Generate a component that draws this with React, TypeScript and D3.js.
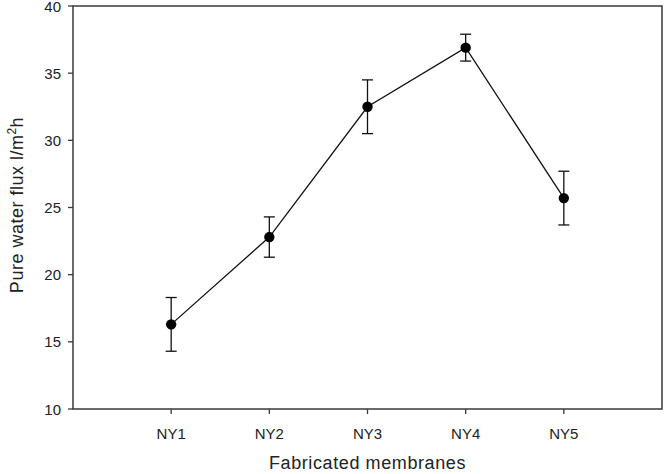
import React from "react";
import * as d3 from "d3";

const categories = ["NY1", "NY2", "NY3", "NY4", "NY5"];
const fluxValues = [16.3, 22.8, 32.5, 36.9, 25.7];
const fluxErrors = [2.0, 1.5, 2.0, 1.0, 2.0];
const yTicks = [10, 15, 20, 25, 30, 35, 40];

const W = 664;
const H = 474;
const M = { left: 73, right: 2, top: 6, bottom: 65 };

export default function App() {
  const x = d3.scaleLinear().domain([0, categories.length + 1]).range([M.left, W - M.right]);
  const y = d3.scaleLinear().domain([10, 40]).range([H - M.bottom, M.top]);
  const pts = categories.map((c, i) => ({ c, i: i + 1, v: fluxValues[i], e: fluxErrors[i] }));
  const line = d3
    .line<{ i: number; v: number }>()
    .x((d) => x(d.i))
    .y((d) => y(d.v));
  const font = "'Liberation Sans', Arial, sans-serif";
  const axisColor = "#3a3a3a";
  const x0 = x(0);
  const x1 = x(categories.length + 1);
  const y0 = y(10);
  const y1 = y(40);
  return (
    <svg width={W} height={H} style={{ position: "absolute", left: 0, top: 0, background: "#fff" }} fontFamily={font}>
      <rect x={0} y={0} width={W} height={H} fill="#fff" />
      <rect x={x0} y={y1} width={x1 - x0} height={y0 - y1} fill="none" stroke={axisColor} strokeWidth={1.5} />
      {yTicks.map((t) => (
        <g key={t}>
          <line x1={x0 - 5} x2={x0} y1={y(t)} y2={y(t)} stroke={axisColor} strokeWidth={1.3} />
          <text x={x0 - 12} y={y(t) + 5.5} textAnchor="end" fontSize={15} fill="#222">
            {t}
          </text>
        </g>
      ))}
      {pts.map((p) => (
        <g key={p.c}>
          <line x1={x(p.i)} x2={x(p.i)} y1={y0} y2={y0 + 5} stroke={axisColor} strokeWidth={1.3} />
          <text x={x(p.i)} y={y0 + 30} textAnchor="middle" fontSize={15} fill="#222">
            {p.c}
          </text>
        </g>
      ))}
      <path d={line(pts) || ""} fill="none" stroke="#111" strokeWidth={1.3} />
      {pts.map((p) => (
        <g key={"e" + p.c} stroke="#111" strokeWidth={1.3}>
          <line x1={x(p.i)} x2={x(p.i)} y1={y(p.v + p.e)} y2={y(p.v - p.e)} />
          <line x1={x(p.i) - 5.5} x2={x(p.i) + 5.5} y1={y(p.v + p.e)} y2={y(p.v + p.e)} />
          <line x1={x(p.i) - 5.5} x2={x(p.i) + 5.5} y1={y(p.v - p.e)} y2={y(p.v - p.e)} />
        </g>
      ))}
      {pts.map((p) => (
        <circle key={"m" + p.c} cx={x(p.i)} cy={y(p.v)} r={5.2} fill="#000" />
      ))}
      <text x={(x0 + x1) / 2} y={469} textAnchor="middle" fontSize={18} letterSpacing={0.6} fill="#222">
        Fabricated membranes
      </text>
      <text transform={`translate(23, 205) rotate(-90)`} textAnchor="middle" fontSize={18} letterSpacing={0.5} fill="#222">
        Pure water flux l/m<tspan dy="-7" fontSize={12}>2</tspan>
        <tspan dy="7">h</tspan>
      </text>
    </svg>
  );
}
